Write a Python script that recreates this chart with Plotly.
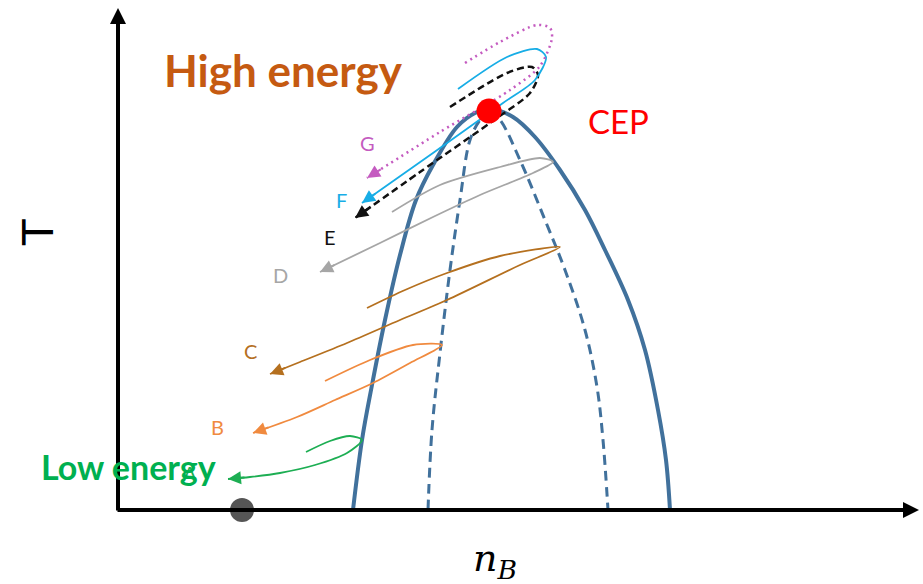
import math
import plotly.graph_objects as go

# Schematic coordinates (x: n_B, y: T in picture units, y grows downward)
bound_x = [353, 362, 372, 385, 400, 416, 433, 457, 475, 490, 513, 535, 560, 585, 605, 628, 645, 658, 666, 670]
bound_y = [510, 440, 385, 320, 255, 200, 165, 127, 113, 109, 117, 137, 170, 210, 250, 300, 350, 410, 460, 510]

spin_l_x = [428, 432, 440, 450, 460, 470, 480, 489]
spin_l_y = [510, 430, 353, 270, 200, 140, 120, 111]
spin_r_x = [489, 500, 520, 545, 565, 585, 597, 603, 608]
spin_r_y = [111, 120, 160, 220, 270, 330, 387, 440, 510]

traj = {
    "A": dict(x=[306, 330, 350, 362, 347, 315, 280, 250, 228],
              y=[452, 441, 436, 440, 453, 465, 473, 477, 479], color="#1DAE53", dash="solid"),
    "B": dict(x=[325, 370, 413, 442, 410, 373, 335, 297, 253],
              y=[381, 360, 345, 345, 363, 383, 400, 417, 433], color="#F08A3F", dash="solid"),
    "C": dict(x=[367, 405, 447, 500, 560, 520, 447, 400, 347, 300, 270],
              y=[308, 290, 273, 256, 247, 265, 300, 320, 343, 362, 374], color="#B5701F", dash="solid"),
    "D": dict(x=[392, 440, 500, 540, 553, 533, 480, 433, 380, 320],
              y=[212, 185, 167, 158, 162, 173, 195, 217, 243, 272], color="#A6A6A6", dash="solid"),
    "E": dict(x=[450, 507, 532, 538, 530, 497, 420, 355],
              y=[107, 73, 67, 75, 93, 118, 172, 218], color="#111111", dash="dash"),
    "F": dict(x=[458, 507, 537, 546, 535, 503, 433, 362],
              y=[89, 57, 49, 57, 80, 103, 153, 203], color="#17ADE6", dash="solid"),
    "G": dict(x=[465, 500, 537, 550, 552, 540, 510, 440, 367],
              y=[63, 42, 25, 28, 38, 66, 90, 132, 178], color="#C45BC0", dash="dot"),
}

labels = {"A": (190, 473), "B": (217, 427), "C": (250, 351), "D": (280, 275),
          "E": (330, 237), "F": (341, 200), "G": (367, 143)}

fig = go.Figure()

fig.add_trace(go.Scatter(x=bound_x, y=bound_y, mode="lines", line=dict(color="#41719C", width=4, shape="spline"),
                         hoverinfo="skip"))
fig.add_trace(go.Scatter(x=spin_l_x, y=spin_l_y, mode="lines",
                         line=dict(color="#41719C", width=3, dash="10px,6px", shape="spline"), hoverinfo="skip"))
fig.add_trace(go.Scatter(x=spin_r_x, y=spin_r_y, mode="lines",
                         line=dict(color="#41719C", width=3, dash="10px,6px", shape="spline"), hoverinfo="skip"))

anns = []
for name, t in traj.items():
    dash = {"solid": "solid", "dash": "7px,4px", "dot": "2px,4px"}[t["dash"]]
    width = {"solid": 1.8, "dash": 2.5, "dot": 2.5}[t["dash"]]
    fig.add_trace(go.Scatter(x=t["x"], y=t["y"], mode="lines",
                             line=dict(color=t["color"], width=width, dash=dash, shape="spline", smoothing=0.8),
                             hoverinfo="skip"))
    # short arrow shaft so the trace's own line style shows
    x1, y1 = t["x"][-1], t["y"][-1]
    x0, y0 = t["x"][-2], t["y"][-2]
    d = math.hypot(x0 - x1, y0 - y1)
    k = 18.0 / d
    anns.append(dict(x=x1, y=y1, ax=x1 + (x0 - x1) * k, ay=y1 + (y0 - y1) * k,
                     xref="x", yref="y", axref="x", ayref="y", text="", showarrow=True,
                     arrowhead=2, arrowsize=1.3, arrowwidth=2, arrowcolor=t["color"]))
    lx, ly = labels[name]
    anns.append(dict(x=lx, y=ly, text=name, showarrow=False, xref="x", yref="y",
                     font=dict(family="Lato", size=20, color=t["color"])))

# critical end point and origin marker
fig.add_trace(go.Scatter(x=[489], y=[111], mode="markers", marker=dict(color="#FF0000", size=25), hoverinfo="skip"))
fig.add_trace(go.Scatter(x=[242], y=[510], mode="markers", marker=dict(color="#555555", size=24), hoverinfo="skip"))

# axes with arrows
anns.append(dict(x=118, y=8, ax=118, ay=512, xref="x", yref="y", axref="x", ayref="y", text="",
                 showarrow=True, arrowhead=2, arrowsize=0.8, arrowwidth=4, arrowcolor="black"))
anns.append(dict(x=919, y=510, ax=116, ay=510, xref="x", yref="y", axref="x", ayref="y", text="",
                 showarrow=True, arrowhead=2, arrowsize=0.8, arrowwidth=4, arrowcolor="black"))

anns += [
    dict(x=38, y=233, text="T", textangle=-90, showarrow=False, xref="x", yref="y",
         font=dict(family="DejaVu Sans", size=42, color="black")),
    dict(x=495, y=560, text="<i>n</i><sub><i>B</i></sub>", showarrow=False, xref="x", yref="y",
         font=dict(family="DejaVu Serif", size=38, color="black")),
    dict(x=618, y=121, text="CEP", showarrow=False, xref="x", yref="y",
         font=dict(family="Lato", size=33, color="#FF0000")),
    dict(x=283, y=70, text="<b>High energy</b>", showarrow=False, xref="x", yref="y",
         font=dict(family="Lato", size=44, color="#C55A11")),
    dict(x=128, y=466, text="<b>Low energy</b>", showarrow=False, xref="x", yref="y",
         font=dict(family="Lato", size=34, color="#00B050")),
]

fig.update_layout(
    width=923, height=584, margin=dict(l=0, r=0, t=0, b=0),
    paper_bgcolor="white", plot_bgcolor="white", showlegend=False,
    xaxis=dict(range=[0, 923], visible=False, fixedrange=True),
    yaxis=dict(range=[584, 0], visible=False, fixedrange=True),
    annotations=anns,
)

fig.write_html("out.html")
